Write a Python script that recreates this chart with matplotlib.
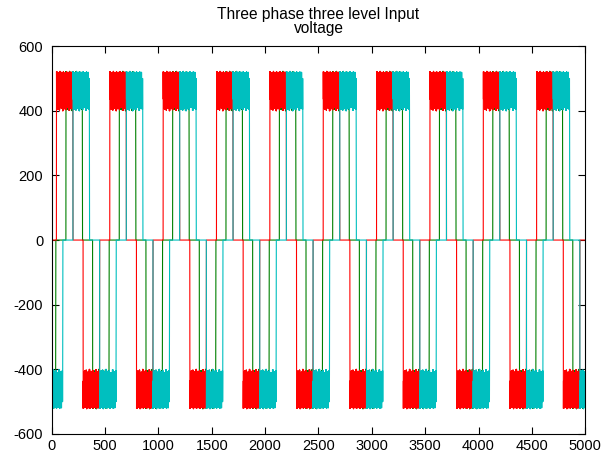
import numpy as np
import matplotlib
matplotlib.use("Agg")
import matplotlib.pyplot as plt

# ======================
# DATA
# ======================
N_SAMPLES = 5000
PERIOD = 500            # samples per cycle
LEVEL_WIDTH = 154       # samples spent at +V or -V
NEG_OFFSET = 250        # -V block starts half a cycle after +V block

PHASES = ["green", "red", "cyan"]          # drawing order
PHASE_COLORS = ["#008000", "#ff0000", "#00bfbf"]
PHASE_START = [134, 45, 200]               # first +V block start (sample)

# ripple envelope over one block (upper / lower edge, volts)
TOP_ENV = [521, 497, 499, 518, 496, 500, 522, 498, 495, 519, 497, 501, 520, 496, 498,
           517, 499, 495, 521, 497, 500, 518, 496, 498, 520, 499, 495, 519, 497, 500]
BOT_ENV = [436, 442, 405, 438, 444, 402, 440, 437, 408, 443, 439, 400, 437, 441, 406,
           444, 436, 403, 439, 442, 410, 437, 440, 401, 443, 438, 407, 436, 441, 404]

XTICKS = [0, 500, 1000, 1500, 2000, 2500, 3000, 3500, 4000, 4500, 5000]
YTICKS = [-600, -400, -200, 0, 200, 400, 600]
TITLE = "Three phase three level Input\nvoltage"


# ======================
# BUILD WAVEFORMS
# ======================
def block_values(width, sign):
    idx = np.arange(width) * len(TOP_ENV) // width
    top = np.array(TOP_ENV)[idx]
    bot = np.array(BOT_ENV)[idx]
    vals = np.where(np.arange(width) % 2 == 0, top, bot)
    return sign * vals


def phase_wave(start):
    v = np.zeros(N_SAMPLES)
    for k in range(-2, N_SAMPLES // PERIOD + 2):
        s = start + k * PERIOD
        for sign, a in [(1, s), (-1, s + NEG_OFFSET)]:
            b = a + LEVEL_WIDTH
            lo, hi = max(a, 0), min(b, N_SAMPLES)
            if lo >= hi:
                continue
            vals = block_values(LEVEL_WIDTH, sign)
            v[lo:hi] = vals[lo - a:hi - a]
    return v


t = np.arange(N_SAMPLES)

# ======================
# PLOT
# ======================
plt.rcParams["font.family"] = ["Liberation Sans", "DejaVu Sans"]
plt.rcParams["axes.unicode_minus"] = False

fig = plt.figure(figsize=(6.14, 4.59), dpi=100)
ax = fig.add_axes([0.0842, 0.0545, 0.869, 0.845])

for name, color, start in zip(PHASES, PHASE_COLORS, PHASE_START):
    ax.plot(t, phase_wave(start), color=color, linewidth=0.8)

ax.set_xlim(0, 5000)
ax.set_ylim(-600, 600)
ax.set_xticks(XTICKS)
ax.set_yticks(YTICKS)
ax.tick_params(direction="in", top=True, right=True, labelsize=10.5, length=5)
ax.tick_params(axis="y", pad=6)
for sp in ax.spines.values():
    sp.set_linewidth(0.8)
ax.set_title(TITLE, fontsize=11.2, pad=9.5, linespacing=0.95)

fig.savefig("out.png", dpi=100)
